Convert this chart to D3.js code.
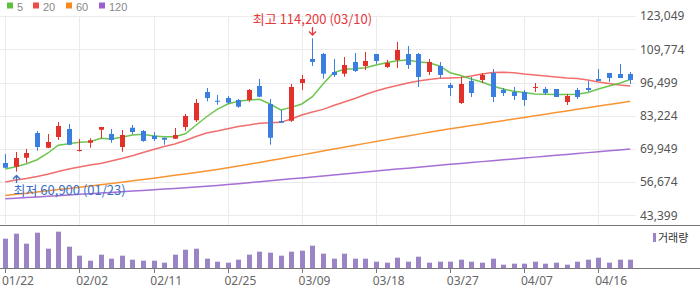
<!DOCTYPE html>
<meta charset="utf-8">
<html>
<script src="https://d3js.org/d3.v7.min.js"></script>
<style>body{margin:0;background:#fff}</style>
<div id="chart"></div>
<script>

// trading days shown on the chart
var dates = ["01/22","01/23","01/26","01/27","01/28","01/29","01/30","02/02","02/03","02/04",
  "02/05","02/06","02/09","02/10","02/11","02/12","02/13","02/19","02/20","02/23",
  "02/24","02/25","02/26","02/27","03/03","03/04","03/05","03/06","03/09","03/10",
  "03/11","03/12","03/13","03/16","03/17","03/18","03/19","03/20","03/23","03/24",
  "03/25","03/26","03/27","03/30","03/31","04/01","04/02","04/03","04/06","04/07",
  "04/08","04/09","04/10","04/13","04/14","04/15","04/16","04/17","04/20","04/21"];

var open = [64350,62850,66450,76350,70450,74750,77950,69150,72450,77650,
  75950,70750,78450,77150,75250,74450,74050,78750,81450,92750,
  89250,90350,89550,89550,95150,87950,81150,81250,96350,105950,
  107950,100750,100050,104750,103150,107950,102750,105550,107950,107950,
  100750,103150,95550,88350,97150,97550,100350,93550,92750,92750,
  94350,93950,93950,88750,93550,94350,97950,100350,99950,99950];
var high = [67950,68750,69950,77150,75950,80750,79950,73950,74250,78750,
  77950,77550,79550,77550,76750,74450,78350,83950,89950,94350,
  91550,91150,89950,93950,97950,89950,85550,95950,99550,114200,
  108350,105950,106750,108350,108750,107950,105550,112750,111150,108350,
  105950,104750,96350,98750,98750,100350,101950,94350,94750,93550,
  96350,94750,93950,91950,94350,97150,101950,100350,103950,100750];
var low = [62300,60900,64450,69250,70300,73550,71500,68950,70450,74250,
  72450,68850,75850,72850,73150,71650,73950,77250,80750,89000,
  87650,88050,86450,88850,90700,71650,80300,80750,93550,103150,
  98050,98750,98850,100750,101550,103950,102350,102350,101950,94750,
  99550,98350,91150,87950,90750,96350,88750,91150,89550,87150,
  92750,91550,90750,87550,89950,92750,97150,96750,98350,95950];
var close = [62450,66350,68350,70750,72750,79150,71650,69550,73450,78750,
  73550,75550,76750,73150,73950,73650,75550,83150,88350,90350,
  88850,88450,86850,93550,90850,74450,80450,94750,97950,104750,
  100050,99550,103550,101150,105150,105150,104350,109550,103550,98750,
  104750,99550,94350,95950,92350,99550,90750,92350,91150,89550,
  94750,92350,90750,91150,90750,93550,97150,98350,98350,97550];
var volume = [880000,1030000,730000,1060000,580000,1090000,640000,370000,220000,400000,
  280000,370000,250000,220000,220000,160000,400000,550000,580000,280000,
  190000,160000,250000,400000,490000,460000,370000,490000,520000,670000,
  430000,280000,430000,280000,280000,190000,160000,310000,190000,340000,
  160000,190000,190000,250000,190000,160000,280000,100000,130000,130000,
  190000,130000,160000,100000,190000,250000,310000,160000,250000,250000];

// moving averages as drawn (5, 20, 60, 120 days)
var ma5 = [61950,62850,64050,65650,68250,71450,72050,72650,72850,74250,
  73950,74650,75550,75850,75150,74850,74850,76050,79450,82850,
  85800,87950,89000,89550,89800,87950,85550,86600,87950,90850,
  95950,100450,101800,102050,102450,103550,104450,105250,105550,104750,
  104450,103150,100450,99350,97950,96750,95150,93950,93000,92550,
  91950,91850,91750,91750,91850,92550,93950,95150,96250,97750];
var ma20 = [56750,57550,58150,58950,59850,60950,61950,62750,63550,64150,
  65150,66150,67250,68550,69750,70950,71950,73350,74950,76350,
  77150,78050,78950,79550,80250,80450,80600,81950,83550,84750,
  85800,87350,88750,90150,91750,93150,94350,95350,96350,97150,
  97750,98200,98350,98550,99150,99950,100550,100600,100450,99950,
  99550,99150,98750,98350,98150,97550,96750,96150,95550,95150];
var ma60 = [51350,51820,52290,52770,53240,53720,54200,54680,55170,55660,
  56150,56680,57210,57750,58300,58850,59420,59990,60580,61180,
  61790,62460,63150,63860,64580,65320,66070,66830,67600,68370,
  69140,69910,70680,71440,72200,72950,73700,74440,75170,75900,
  76620,77330,78000,78660,79320,79980,80640,81290,81940,82590,
  83240,83890,84540,85180,85820,86460,87100,87740,88380,89010];
var ma120 = [50050,50300,50550,50800,51050,51300,51560,51820,52080,52340,
  52600,52860,53120,53390,53660,53930,54200,54480,54760,55050,
  55350,55710,56080,56460,56840,57230,57620,58010,58400,58790,
  59180,59570,59960,60350,60740,61130,61520,61910,62300,62690,
  63080,63460,63820,64180,64540,64900,65260,65620,65980,66340,
  66700,67060,67420,67780,68140,68500,68860,69220,69580,69940];

var priceTicks = [123049,109774,96499,83224,69949,56674,43399];
var tickDates = ["01/22","02/02","02/11","02/25","03/09","03/18","03/27","04/07","04/16"];
var maNames = ["5","20","60","120"];
var maColors = ["#5dbf3c","#ee4a48","#f78a1d","#9b5fcf"];

var width = 700, height = 289;
var plotRight = 635.5;
var priceBorder = 225, volBase = 268;
var numFont = "'Noto Sans', sans-serif";
var korFont = "'Noto Sans CJK KR', sans-serif";

var svg = d3.select("#chart").append("svg")
  .attr("width", width)
  .attr("height", height)
  .style("display", "block");

var x = d3.scaleBand().domain(dates).range([0, plotRight]);
var bw = x.bandwidth();
function cx(d) { return x(d) + bw / 2; }

var y = d3.scaleLinear().domain([43399, 123049]).range([215.4, 16.2]);
var yv = d3.scaleLinear().domain([0, 1200000]).range([volBase, volBase - 40]);

// grid
svg.append("g").selectAll("line").data(priceTicks).enter().append("line")
  .attr("x1", 0).attr("x2", plotRight)
  .attr("y1", function(d){ return Math.round(y(d)) + 0.5; })
  .attr("y2", function(d){ return Math.round(y(d)) + 0.5; })
  .attr("stroke", "#ebebeb");
svg.append("g").selectAll("line").data(tickDates).enter().append("line")
  .attr("x1", function(d){ return Math.round(cx(d)) + 0.5; })
  .attr("x2", function(d){ return Math.round(cx(d)) + 0.5; })
  .attr("y1", Math.round(y(123049))).attr("y2", priceBorder)
  .attr("stroke", "#ebebeb");

// price labels
svg.append("g").selectAll("text").data(priceTicks).enter().append("text")
  .attr("x", 640)
  .attr("y", function(d){ return y(d); })
  .attr("dy", "0.35em")
  .attr("font-family", numFont)
  .attr("font-size", 12)
  .attr("fill", "#555")
  .text(function(d){ return d3.format(",")(d); });

// moving average lines
var line = d3.line()
  .x(function(d, i){ return cx(dates[i]); })
  .y(function(d){ return y(d); });
[ma120, ma60, ma20, ma5].forEach(function(s, k) {
  var c = maColors[3 - k];
  svg.append("path")
    .attr("d", line(s))
    .attr("fill", "none")
    .attr("stroke", c)
    .attr("stroke-opacity", k == 2 ? 0.8 : 0.9)
    .attr("stroke-width", 1.5);
});

// candles
var candles = svg.append("g").selectAll("g").data(dates).enter().append("g");
function col(i) { return close[i] >= open[i] ? "#e2302a" : "#3a7fe0"; }
candles.append("line")
  .attr("x1", function(d){ return Math.round(cx(d)) + 0.5; })
  .attr("x2", function(d){ return Math.round(cx(d)) + 0.5; })
  .attr("y1", function(d, i){ return y(high[i]); })
  .attr("y2", function(d, i){ return y(low[i]); })
  .attr("stroke", function(d, i){ return col(i); });
candles.append("rect")
  .attr("x", function(d){ return Math.round(cx(d)) - 2; })
  .attr("width", 5)
  .attr("y", function(d, i){ return y(Math.max(open[i], close[i])); })
  .attr("height", function(d, i){ return Math.max(1, y(Math.min(open[i], close[i])) - y(Math.max(open[i], close[i]))); })
  .attr("fill", function(d, i){ return col(i); });

// high / low marks
var hi = d3.maxIndex(high), lo = d3.minIndex(low);
var hx = Math.round(cx(dates[hi])) + 0.5, lx = Math.round(cx(dates[lo])) + 0.5;
svg.append("path")
  .attr("d", "M" + hx + ",27V35M" + (hx - 3.5) + ",31.5L" + hx + ",35L" + (hx + 3.5) + ",31.5")
  .attr("fill", "none").attr("stroke", "#e5383b").attr("stroke-width", 1.3);
svg.append("text")
  .attr("x", hx).attr("y", 24)
  .attr("text-anchor", "middle")
  .attr("font-family", korFont).attr("font-size", 13)
  .attr("fill", "#e5383b")
  .text("최고 " + d3.format(",")(high[hi]) + " (" + dates[hi] + ")");
svg.append("path")
  .attr("d", "M" + lx + ",183V175.5M" + (lx - 3.5) + ",179L" + lx + ",175.5L" + (lx + 3.5) + ",179")
  .attr("fill", "none").attr("stroke", "#3a6fc8").attr("stroke-width", 1.3);
svg.append("text")
  .attr("x", lx - 3).attr("y", 195)
  .attr("font-family", korFont).attr("font-size", 13)
  .attr("fill", "#3a6fc8")
  .text("최저 " + d3.format(",")(low[lo]) + " (" + dates[lo] + ")");

// panel borders
svg.append("line").attr("x1", 0).attr("x2", width).attr("y1", priceBorder + 0.5).attr("y2", priceBorder + 0.5).attr("stroke", "#777");
svg.append("line").attr("x1", 0).attr("x2", width).attr("y1", volBase + 0.5).attr("y2", volBase + 0.5).attr("stroke", "#777");

// volume
svg.append("g").selectAll("rect").data(volume).enter().append("rect")
  .attr("x", function(d, i){ return Math.round(cx(dates[i])) - 2; })
  .attr("width", 5)
  .attr("y", function(d){ return yv(d); })
  .attr("height", function(d){ return volBase - yv(d); })
  .attr("fill", "#9b84c6");

// date ticks
svg.append("g").selectAll("line").data(tickDates).enter().append("line")
  .attr("x1", function(d){ return Math.round(cx(d)) + 0.5; })
  .attr("x2", function(d){ return Math.round(cx(d)) + 0.5; })
  .attr("y1", volBase).attr("y2", volBase + 5)
  .attr("stroke", "#777");
svg.append("g").selectAll("text").data(tickDates).enter().append("text")
  .attr("x", function(d){ return cx(d) - 3.3; })
  .attr("y", 285)
  .attr("font-family", numFont).attr("font-size", 12)
  .attr("fill", "#666")
  .text(function(d){ return d; });

// volume legend
svg.append("rect").attr("x", 653).attr("y", 233).attr("width", 3).attr("height", 9).attr("fill", "#9b84c6");
svg.append("text").attr("x", 658).attr("y", 241.5)
  .attr("font-family", korFont).attr("font-size", 11)
  .attr("fill", "#333").text("거래량");

// MA legend
var legX = [7, 33, 66, 99];
var leg = svg.append("g").selectAll("g").data(maNames).enter().append("g")
  .attr("transform", function(d, i){ return "translate(" + legX[i] + ",0)"; });
leg.append("rect").attr("x", 0).attr("y", 2.5).attr("width", 6).attr("height", 6)
  .attr("fill", function(d, i){ return maColors[i]; });
leg.append("text").attr("x", 10).attr("y", 10.5)
  .attr("font-family", "'Liberation Sans', sans-serif").attr("font-size", 11)
  .attr("fill", "#888").text(function(d){ return d; });
</script>
</html>
